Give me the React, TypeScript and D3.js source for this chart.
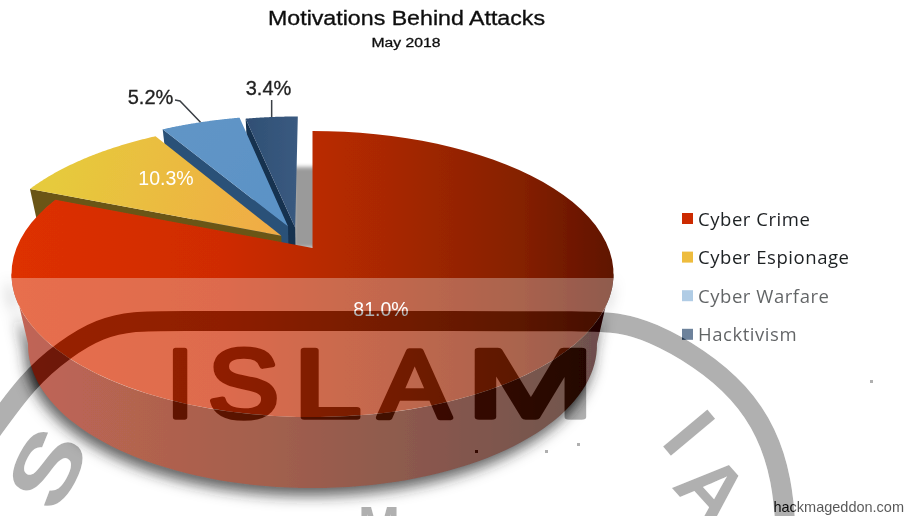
import React from "react";
import * as d3 from "d3";

const categories = ["Cyber Crime", "Cyber Espionage", "Cyber Warfare", "Hacktivism"];
const shares = [81.0, 10.3, 5.2, 3.4];
const shareLabels = ["81.0%", "10.3%", "5.2%", "3.4%"];
const legendColors = ["#cc2a06", "#eebc3c", "#8fb6da", "#2f4d70"];
const wallColors = ["url(#redWall)", "#6a5515", "#2c5178", "#16304f"];
const topFills = ["url(#redTop)", "url(#yellowTop)", "url(#blueTop)", "url(#navyTop)"];
const explodeX = [0, -0.107, -0.085, -0.06];
const explodeY = [0, -0.09, -0.16, -0.15];

const wmLetters = ["I", "S", "L", "A", "M"];
const wmCenters = [180, 243.5, 327.5, 414.5, 530.5];
const wmStretch = [1, 1.1, 1.25, 1.12, 1.6];

const W = 904, H = 516;
const apexX = 312.5, apexY = 248;
const persp = 0.182, lowScale = 0.945, depth = 71;
const xs = d3.scaleLinear().domain([-1, 1]).range([apexX - 296, apexX + 296]);
const ys = d3.scaleLinear().domain([-1, 1]).range([apexY - 138.3, apexY + 138.3]);

type P = [number, number];
const project = (x: number, y: number, low = false): P => {
  const d = 1 - persp * y;
  const px = x / d, py = y / d;
  if (!low) return [xs(px), ys(py)];
  return [apexX + (xs(px) - apexX) * lowScale, ys(py) + depth];
};
const world = (a: number, i: number): P => [Math.sin(a) + explodeX[i], -Math.cos(a) + explodeY[i]];
const line = d3.line<P>();
const pie = d3.pie<number>().sort(null).value((d) => d);
const arcs = pie(shares);

const rim = (from: number, to: number, i: number, low = false): P[] =>
  d3.range(0, 81).map((n) => {
    const [x, y] = world(from + ((to - from) * n) / 80, i);
    return project(x, y, low);
  });
const apexOf = (i: number, low = false): P => project(explodeX[i], explodeY[i], low);

const topPath = (i: number) =>
  line([apexOf(i), ...rim(arcs[i].startAngle, arcs[i].endAngle, i)])! + "Z";
const edgeWall = (i: number) => {
  const a = arcs[i].startAngle;
  const [x, y] = world(a, i);
  return line([apexOf(i), project(x, y), project(x, y, true), apexOf(i, true)])! + "Z";
};
const redWallPath = () => {
  const from = (100 * Math.PI) / 180;
  const to = (260 * Math.PI) / 180;
  return line([...rim(from, to, 0), ...rim(from, to, 0, true).reverse()])! + "Z";
};
const rimMid = (i: number): P => {
  const [x, y] = world((arcs[i].startAngle + arcs[i].endAngle) / 2, i);
  return project(x, y);
};

const ringPts: P[] = [[-30, 460], [-12, 436], [28, 380], [65, 349], [100, 328], [135, 321], [170, 321], [300, 321], [450, 321], [590, 321], [620, 323], [650, 331], [700, 358], [740, 392], [767, 432], [782, 480], [786, 530], [786, 560]];
const ringPath = d3.line<P>().curve(d3.curveBasis)(ringPts)!;
const specksX = [475, 545, 577, 870];
const specksY = [450, 450, 443, 380];
const wmFont = "'Liberation Sans', sans-serif";

const Watermark = ({ fill }: { fill: string }) => (
  <g fill={fill} fontFamily={wmFont}>
    <path d={ringPath} fill="none" stroke={fill} strokeWidth={20} />
    {wmLetters.map((l, i) => (
      <text key={l} transform={`translate(${wmCenters[i]},417) scale(${wmStretch[i]},1)`} textAnchor="middle" fontSize={96}
        stroke={fill} strokeWidth={5.5} strokeLinejoin="round">{l}</text>
    ))}
    <text transform="translate(46,467) rotate(-62) scale(1.3,1)" textAnchor="middle" dy={32} fontSize={88} fontWeight={700}>S</text>
    <text transform="translate(690,432) rotate(50)" textAnchor="middle" dy={30} fontSize={84} fontWeight={700}>I</text>
    <text transform="translate(713,489) rotate(48)" textAnchor="middle" dy={30} fontSize={84} fontWeight={700}>A</text>
    <text x={379} y={548} textAnchor="middle" fontSize={60} fontWeight={700} textLength={42} lengthAdjust="spacingAndGlyphs">M</text>
    {specksX.map((x, i) => <rect key={x} x={x} y={specksY[i]} width={3} height={3} />)}
  </g>
);

export default function App() {
  const sans = "'Liberation Sans', Arial, sans-serif";
  const ui = "'Open Sans', sans-serif";
  const leaderBlue = rimMid(2);
  const leaderNavy = rimMid(3);
  const navyEdge = apexOf(3)[0] + 2;
  return (
    <svg width={W} height={H} viewBox={`0 0 ${W} ${H}`} style={{ position: "absolute", left: 0, top: 0, background: "#fff" }}>
      <defs>
        <linearGradient id="redTop" gradientUnits="userSpaceOnUse" x1={12} x2={614} y1={0} y2={0}>
          <stop offset="0" stopColor="#de3006" />
          <stop offset="0.35" stopColor="#cf2c00" />
          <stop offset="0.62" stopColor="#a92800" />
          <stop offset="0.85" stopColor="#842000" />
          <stop offset="1" stopColor="#5f1200" />
        </linearGradient>
        <linearGradient id="redWall" gradientUnits="userSpaceOnUse" x1={20} x2={610} y1={0} y2={0}>
          <stop offset="0" stopColor="#a62408" />
          <stop offset="0.4" stopColor="#7e1c04" />
          <stop offset="0.75" stopColor="#4e0e02" />
          <stop offset="1" stopColor="#2e0500" />
        </linearGradient>
        <linearGradient id="yellowTop" gradientUnits="userSpaceOnUse" x1={60} x2={270} y1={160} y2={225}>
          <stop offset="0" stopColor="#e6ca3c" />
          <stop offset="1" stopColor="#f0ac45" />
        </linearGradient>
        <linearGradient id="blueTop" gradientUnits="userSpaceOnUse" x1={170} x2={290} y1={130} y2={230}>
          <stop offset="0" stopColor="#6195c6" />
          <stop offset="1" stopColor="#5a92c6" />
        </linearGradient>
        <linearGradient id="navyTop" gradientUnits="userSpaceOnUse" x1={245} x2={297} y1={120} y2={120}>
          <stop offset="0" stopColor="#2f4f74" />
          <stop offset="1" stopColor="#3a5a80" />
        </linearGradient>
        <filter id="soft" x="-20%" y="-20%" width="140%" height="140%"><feGaussianBlur stdDeviation={0.55} /></filter>
        <filter id="shadow" x="-20%" y="-20%" width="140%" height="140%"><feGaussianBlur stdDeviation={7} /></filter>
        <filter id="gap" x="-50%" y="-50%" width="200%" height="200%"><feGaussianBlur stdDeviation={2} /></filter>
        <mask id="washMask" maskUnits="userSpaceOnUse" x={0} y={0} width={W} height={H}>
          <rect x={0} y={278} width={W} height={H - 278} fill="#fff" />
          <Watermark fill="#000" />
        </mask>
      </defs>

      <rect width={W} height={H} fill="#fff" />
      <g filter="url(#soft)">
        <g fontFamily={sans} textAnchor="middle" fill="#111">
          <text x={406.5} y={25} fontSize={20.5} stroke="#111" strokeWidth={0.35} textLength={277} lengthAdjust="spacingAndGlyphs">Motivations Behind Attacks</text>
          <text x={406} y={47} fontSize={12.5} stroke="#111" strokeWidth={0.3} textLength={69} lengthAdjust="spacingAndGlyphs">May 2018</text>
        </g>

        <path d={redWallPath()} transform="translate(-3,8)" fill="#222" filter="url(#shadow)" />
        <rect x={navyEdge - 4} y={apexY - 81} width={apexX - navyEdge + 8} height={81} fill="#9a9a9a" filter="url(#gap)" />

        {[3, 2, 1].map((i) => (
          <g key={categories[i]}>
            <path d={edgeWall(i)} fill={wallColors[i]} />
            <path d={topPath(i)} fill={topFills[i]} />
          </g>
        ))}
        <path d={redWallPath()} fill={wallColors[0]} />
        <path d={topPath(0)} fill={topFills[0]} />

        <g fill="none" stroke="#3a3f45" strokeWidth={1.5}>
          <path d={line([[175, 100], [180, 101], leaderBlue])!} />
          <path d={line([[leaderNavy[0], 100], leaderNavy])!} />
        </g>

        <g fontFamily={sans} textAnchor="middle">
          <text x={381} y={316} fontSize={19.5} fill="#fff">{shareLabels[0]}</text>
          <text x={166} y={185} fontSize={19.5} fill="#fff">{shareLabels[1]}</text>
          <text x={150.5} y={103.5} fontSize={20} fill="#222" stroke="#222" strokeWidth={0.3}>{shareLabels[2]}</text>
          <text x={268.5} y={94.5} fontSize={20} fill="#222" stroke="#222" strokeWidth={0.3}>{shareLabels[3]}</text>
        </g>

        <g fontFamily={ui} fontSize={18.5} letterSpacing={0.55} fill="#1d2024">
          {categories.map((c, i) => (
            <g key={c}>
              <rect x={682} y={213 + i * 38.6} width={11} height={11} fill={legendColors[i]} />
              <text x={698} y={226 + i * 38.4}>{c}</text>
            </g>
          ))}
        </g>
        <text x={904} y={512} textAnchor="end" fontFamily={sans} fontSize={14.5} fill="#111">hackmageddon.com</text>
      </g>

      <g style={{ mixBlendMode: "multiply" }} opacity={0.31}>
        <Watermark fill="#000" />
      </g>
      <rect x={0} y={278} width={W} height={H - 278} fill="#fff" opacity={0.3} mask="url(#washMask)" />
    </svg>
  );
}
